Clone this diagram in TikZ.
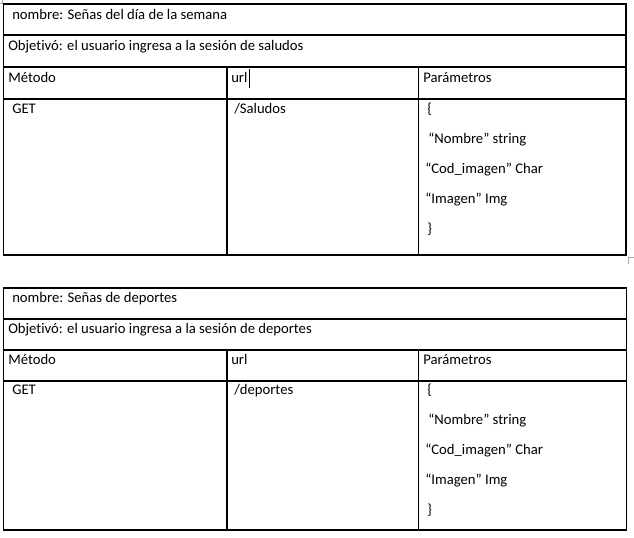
\documentclass[tikz,border=0pt]{standalone}
\usepackage{fontspec}
\setmainfont{Carlito}[Ligatures=NoCommon]
\usetikzlibrary{calc}
\begin{document}
\begin{tikzpicture}[x=0.75pt,y=-0.75pt,
  grid/.style={draw=black,line width=0.8pt},
  txt/.style={anchor=base west,inner sep=0pt,font=\fontsize{11pt}{13pt}\selectfont},
  greymark/.style={draw=black!35,line width=0.7pt}]
\useasboundingbox (0,0) rectangle (634,537);
% ---------- table 1 ----------
\coordinate (A1) at (3.5,4);
\coordinate (B1) at (626,255);
\draw[grid] (A1) rectangle (B1);
\draw[grid] (3.5,35) -- (626,35);
\draw[grid] (3.5,67) -- (626,67);
\draw[grid] (3.5,99) -- (626,99);
\draw[grid] (227,67) -- (227,255);
\draw[grid] (418.5,67) -- (418.5,255);
\node[txt] (n1) at (12,19) {nombre: Señas del día de la semana};
\node[txt] (o1) at (8,50) {Objetivó: el usuario ingresa a la sesión de saludos};
\node[txt] (m1) at (8,82) {Método};
\node[txt] (u1) at (231,82) {url};
\node[txt] (p1) at (423,82) {Parámetros};
\node[txt] (g1) at (12,113) {GET};
\node[txt] (s1) at (234,113) {/Saludos};
\node[txt] (b1) at (427,113) {\{};
\node[txt] (q1) at (428,143) {“Nombre” string};
\node[txt] (c1) at (425,173) {“Cod\_imagen” Char};
\node[txt] (i1) at (425,203) {“Imagen” Img};
\node[txt] (e1) at (427,233) {\}};
\coordinate (cur) at ($(u1.base east)+(2,0)$);
\draw[line width=0.8pt] ($(cur)+(0,6)$) -- ($(cur)+(0,-13)$);
% ---------- table 2 ----------
\coordinate (A2) at (3.5,288);
\coordinate (B2) at (626.5,530);
\draw[grid] (A2) rectangle (B2);
\draw[grid] (3.5,319) -- (626.5,319);
\draw[grid] (3.5,350) -- (626.5,350);
\draw[grid] (3.5,381) -- (626.5,381);
\draw[grid] (227,350) -- (227,530);
\draw[grid] (418.5,350) -- (418.5,530);
\node[txt] (n2) at (12,302) {nombre: Señas de deportes};
\node[txt] (o2) at (8,333) {Objetivó: el usuario ingresa a la sesión de deportes};
\node[txt] (m2) at (8,364) {Método};
\node[txt] (u2) at (231,364) {url};
\node[txt] (p2) at (423,364) {Parámetros};
\node[txt] (g2) at (12,394) {GET};
\node[txt] (s2) at (234,394) {/deportes};
\node[txt] (b2) at (427,394) {\{};
\node[txt] (q2) at (428,424) {“Nombre” string};
\node[txt] (c2) at (425,454) {“Cod\_imagen” Char};
\node[txt] (i2) at (425,484) {“Imagen” Img};
\node[txt] (e2) at (427,514) {\}};
% ---------- grey marks ----------
\draw[greymark] (2,0) -- (2,3) -- (0,3);
\draw[greymark] (628,264) -- (628,257.5) -- (634,257.5);
\end{tikzpicture}
\end{document}
